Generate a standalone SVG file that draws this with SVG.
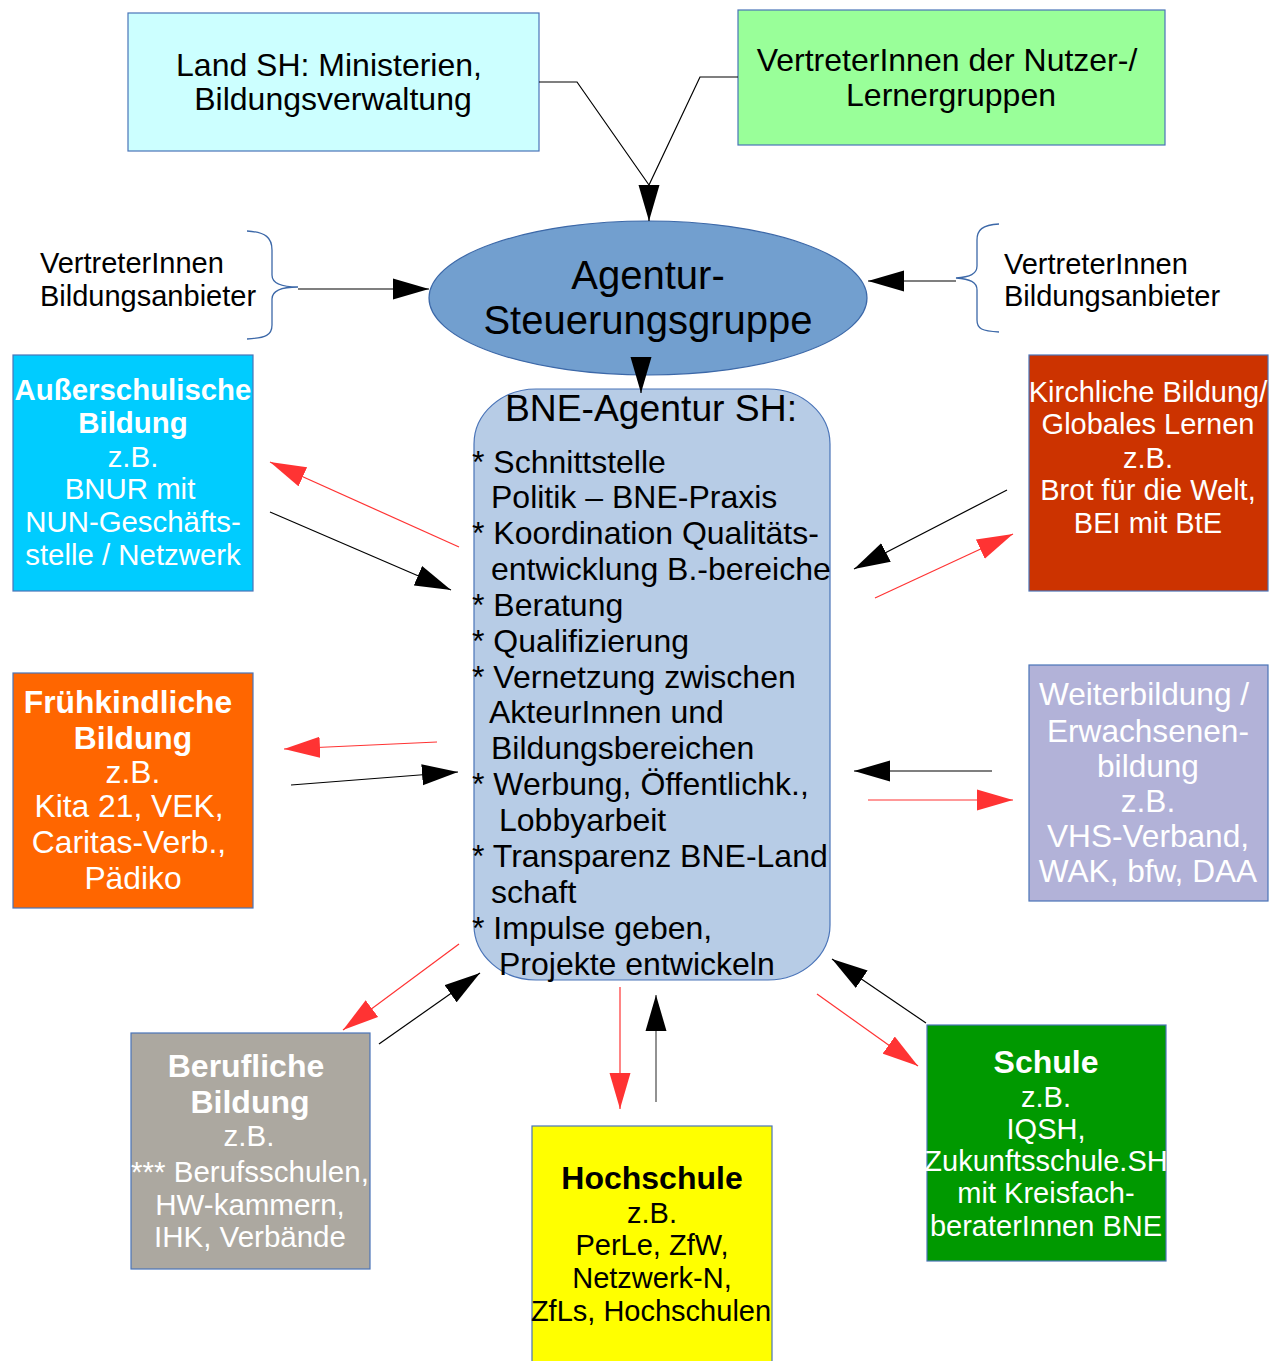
<svg xmlns="http://www.w3.org/2000/svg" width="1272" height="1361" viewBox="0 0 1272 1361">
<defs>
<style>
text{font-family:"Liberation Sans",Arial,sans-serif;}
.box{stroke:#4a74b8;stroke-width:1.2;}
.w{fill:#ffffff;}
.k{fill:#000000;}
.b{font-weight:bold;}
.c{text-anchor:middle;}
.ln{fill:none;stroke:#000;stroke-width:1.2;}
.rd{fill:none;stroke:#ff3333;stroke-width:1.2;}
.br{fill:none;stroke:#3c68a8;stroke-width:1.3;}
</style>
<marker id="ab" markerUnits="userSpaceOnUse" markerWidth="36" markerHeight="22" refX="36" refY="10.5" orient="auto" viewBox="0 0 36 21">
<path d="M0,0 L36,10.5 L0,21 z" fill="#000"/>
</marker>
<marker id="ar" markerUnits="userSpaceOnUse" markerWidth="36" markerHeight="22" refX="36" refY="10.5" orient="auto" viewBox="0 0 36 21">
<path d="M0,0 L36,10.5 L0,21 z" fill="#ff3333"/>
</marker>
</defs>
<rect width="1272" height="1361" fill="#fff"/>

<g id="land">
<rect class="box" x="128" y="13" width="411" height="138" fill="#ccffff"/>
<text class="c k" x="329" y="76" font-size="32">Land SH: Ministerien,</text>
<text class="c k" x="333" y="110" font-size="32">Bildungsverwaltung</text>
</g>

<g id="nutzer">
<rect class="box" x="738" y="10" width="427" height="135" fill="#99ff99"/>
<text class="c k" x="947" y="71" font-size="32">VertreterInnen der Nutzer-/</text>
<text class="c k" x="951" y="106" font-size="32">Lernergruppen</text>
</g>

<g id="anbieter-links">
<path class="br" d="M247,231 C266,232 272,238 272,250 L272,275 C272,283 280,287 298,287 C280,287 272,291 272,299 L272,325 C272,335 266,338 247,339"/>
<text class="k" x="40" y="273" font-size="29">VertreterInnen</text>
<text class="k" x="40" y="306" font-size="29">Bildungsanbieter</text>
</g>

<g id="anbieter-rechts">
<path class="br" d="M999,224 C982,225 977,230 977,240 L977,266 C977,274 970,277 956,278 C970,279 977,282 977,290 L977,320 C977,329 982,331 999,332"/>
<text class="k" x="1004" y="274" font-size="29">VertreterInnen</text>
<text class="k" x="1004" y="306" font-size="29">Bildungsanbieter</text>
</g>

<g id="steuerung">
<ellipse cx="648" cy="298" rx="219" ry="77" fill="#729fcf" stroke="#3c68a8" stroke-width="1.2"/>
<text class="c k" x="648" y="289" font-size="40">Agentur-</text>
<text class="c k" x="648" y="334" font-size="40">Steuerungsgruppe</text>
</g>

<g id="agentur">
<rect x="474" y="389" width="356" height="591" rx="62" ry="55" fill="#b7cce6" stroke="#4a74b8" stroke-width="1.2"/>
<g class="k" font-size="32">
<text x="505" y="421" font-size="36" textLength="292" lengthAdjust="spacingAndGlyphs">BNE-Agentur SH:</text>
<text x="472" y="473">* Schnittstelle</text>
<text x="491" y="508">Politik – BNE-Praxis</text>
<text x="472" y="544">* Koordination Qualitäts-</text>
<text x="491" y="580">entwicklung B.-bereiche</text>
<text x="472" y="616">* Beratung</text>
<text x="472" y="652">* Qualifizierung</text>
<text x="472" y="688">* Vernetzung zwischen</text>
<text x="489" y="723">AkteurInnen und</text>
<text x="491" y="759">Bildungsbereichen</text>
<text x="472" y="795">* Werbung, Öffentlichk.,</text>
<text x="499" y="831">Lobbyarbeit</text>
<text x="472" y="867">* Transparenz BNE-Land</text>
<text x="491" y="903">schaft</text>
<text x="472" y="939">* Impulse geben,</text>
<text x="499" y="975">Projekte entwickeln</text>
</g>
</g>

<g id="ausserschulisch">
<rect class="box" x="13" y="355" width="240" height="236" fill="#00ccff"/>
<g class="c w" font-size="29.4">
<text class="b" x="133" y="400">Außerschulische</text>
<text class="b" x="133" y="433">Bildung</text>
<text x="133" y="467">z.B.</text>
<text x="130" y="499">BNUR mit</text>
<text x="133" y="532">NUN-Geschäfts-</text>
<text x="133" y="565">stelle / Netzwerk</text>
</g>
</g>

<g id="fruehkindlich">
<rect class="box" x="13" y="673" width="240" height="235" fill="#ff6600"/>
<g class="c w" font-size="31.8">
<text class="b" x="128" y="713">Frühkindliche</text>
<text class="b" x="133" y="749">Bildung</text>
<text x="133" y="783">z.B.</text>
<text x="129" y="817">Kita 21, VEK,</text>
<text x="129" y="853">Caritas-Verb.,</text>
<text x="133" y="889">Pädiko</text>
</g>
</g>

<g id="kirchlich">
<rect class="box" x="1029" y="355" width="239" height="236" fill="#cc3300"/>
<g class="c w" font-size="29">
<text x="1148" y="402">Kirchliche Bildung/</text>
<text x="1148" y="434">Globales Lernen</text>
<text x="1148" y="468">z.B.</text>
<text x="1148" y="500">Brot für die Welt,</text>
<text x="1148" y="533">BEI mit BtE</text>
</g>
</g>

<g id="weiterbildung">
<rect class="box" x="1029" y="665" width="239" height="236" fill="#b2b2d8"/>
<g class="c w" font-size="31.6">
<text x="1144" y="705">Weiterbildung /</text>
<text x="1148" y="742">Erwachsenen-</text>
<text x="1148" y="777">bildung</text>
<text x="1148" y="812">z.B.</text>
<text x="1148" y="847">VHS-Verband,</text>
<text x="1148" y="882">WAK, bfw, DAA</text>
</g>
</g>

<g id="beruflich">
<rect class="box" x="131" y="1033" width="239" height="236" fill="#aca8a0"/>
<g class="c w" font-size="29.5">
<text class="b" x="246" y="1077" font-size="32">Berufliche</text>
<text class="b" x="250" y="1113" font-size="32">Bildung</text>
<text x="249" y="1146">z.B.</text>
<text x="250" y="1182">*** Berufsschulen,</text>
<text x="250" y="1215">HW-kammern,</text>
<text x="250" y="1247">IHK, Verbände</text>
</g>
</g>

<g id="hochschule">
<rect class="box" x="532" y="1126" width="240" height="250" fill="#ffff00"/>
<g class="c k" font-size="29">
<text class="b" x="652" y="1189" font-size="32">Hochschule</text>
<text x="652" y="1223">z.B.</text>
<text x="652" y="1255">PerLe, ZfW,</text>
<text x="652" y="1288">Netzwerk-N,</text>
<text x="651" y="1321">ZfLs, Hochschulen</text>
</g>
</g>

<g id="schule">
<rect class="box" x="927" y="1025" width="239" height="236" fill="#009900"/>
<g class="c w" font-size="29">
<text class="b" x="1046" y="1073" font-size="32">Schule</text>
<text x="1046" y="1107">z.B.</text>
<text x="1046" y="1139">IQSH,</text>
<text x="1046" y="1171">Zukunftsschule.SH</text>
<text x="1046" y="1203">mit Kreisfach-</text>
<text x="1046" y="1236">beraterInnen BNE</text>
</g>
</g>

<g id="connectors">
<polyline class="ln" points="539,82 577,82 649,185"/>
<polyline class="ln" points="738,77 700,77 649,185"/>
<path class="ln" d="M649,185 L649,221" marker-end="url(#ab)"/>
<path class="ln" d="M298,289 L429,289" marker-end="url(#ab)"/>
<path class="ln" d="M956,281 L868,281" marker-end="url(#ab)"/>
<path class="ln" d="M641,362 L641,393" marker-end="url(#ab)"/>

<path class="rd" d="M459,547 L270,462" marker-end="url(#ar)"/>
<path class="ln" d="M270,512 L451,590" marker-end="url(#ab)"/>

<path class="rd" d="M437,742 L284,749" marker-end="url(#ar)"/>
<path class="ln" d="M291,785 L458,772" marker-end="url(#ab)"/>

<path class="ln" d="M1007,490 L854,569" marker-end="url(#ab)"/>
<path class="rd" d="M875,598 L1013,534" marker-end="url(#ar)"/>

<path class="ln" d="M992,771 L854,771" marker-end="url(#ab)"/>
<path class="rd" d="M868,800 L1013,800" marker-end="url(#ar)"/>

<path class="rd" d="M459,944 L343,1030" marker-end="url(#ar)"/>
<path class="ln" d="M379,1044 L480,973" marker-end="url(#ab)"/>

<path class="rd" d="M620,987 L620,1109" marker-end="url(#ar)"/>
<path d="M656,1102 L656,995" fill="none" stroke="#777" stroke-width="1.6" marker-end="url(#ab)"/>

<path class="ln" d="M926,1023 L832,959" marker-end="url(#ab)"/>
<path class="rd" d="M817,994 L918,1066" marker-end="url(#ar)"/>
</g>
</svg>
